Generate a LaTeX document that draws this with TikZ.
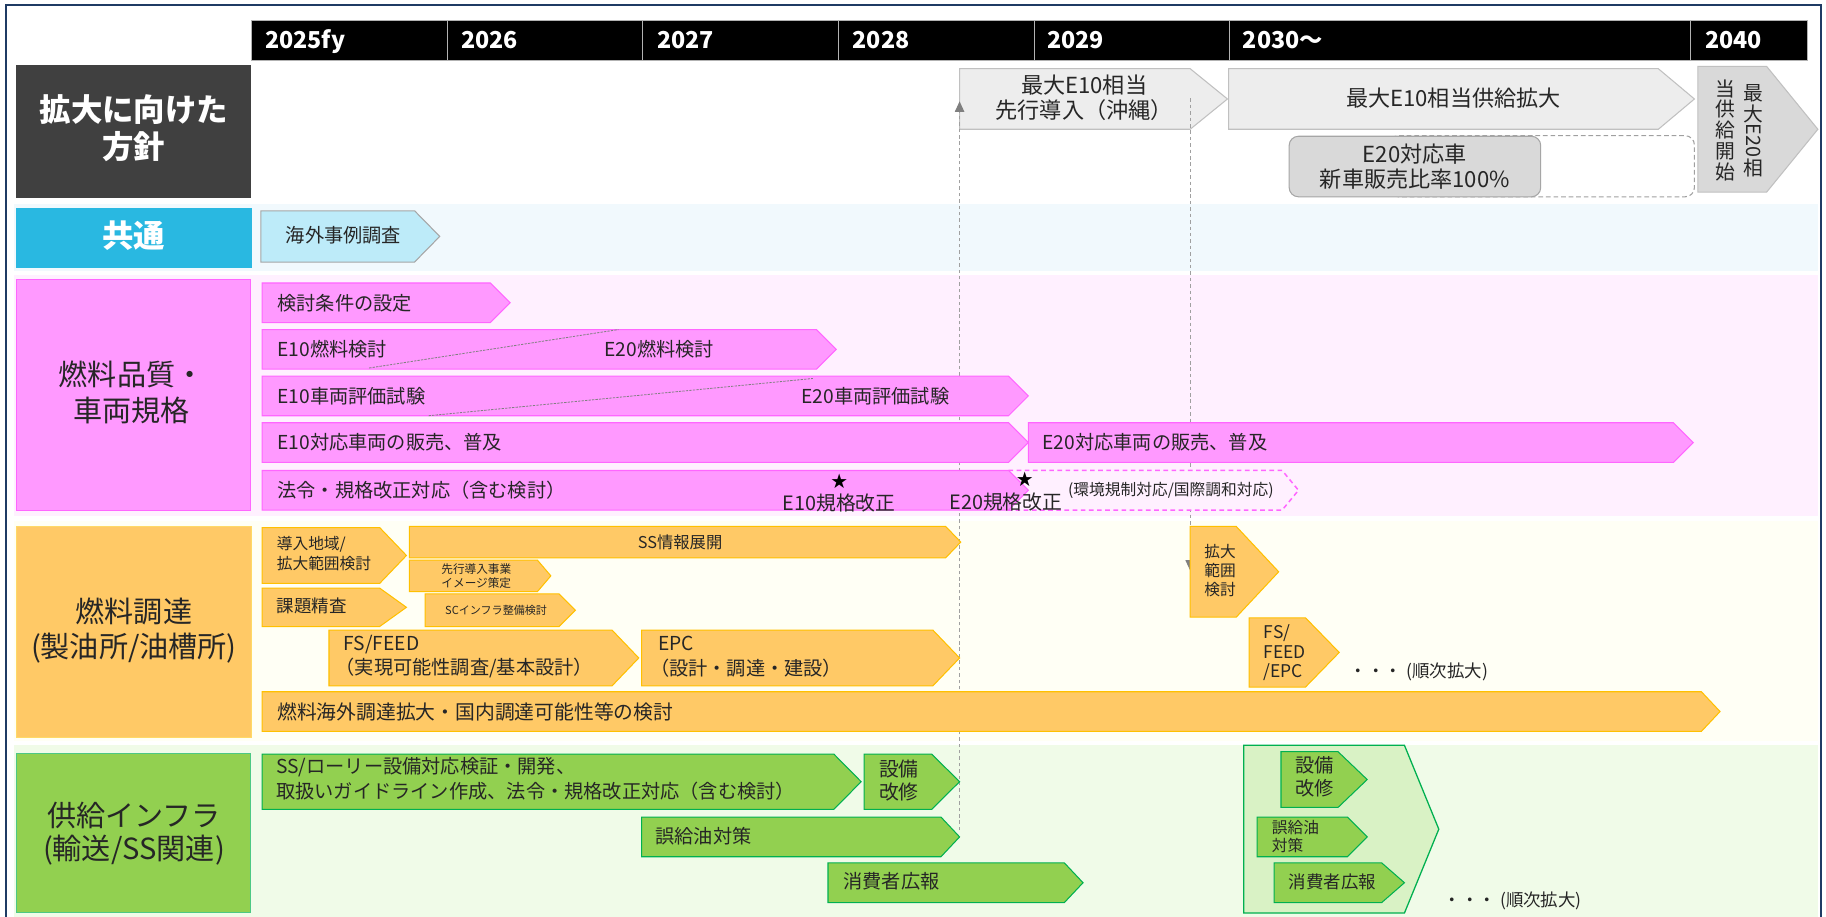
\documentclass[tikz,border=0pt]{standalone}
\usepackage{fontspec}
\setmainfont{Noto Sans CJK JP}
\usetikzlibrary{arrows.meta}
\definecolor{framec}{HTML}{1F3B64}
\definecolor{txt}{HTML}{262626}
\definecolor{darkl}{HTML}{404040}
\definecolor{cyanl}{HTML}{29B8E1}
\definecolor{pinkf}{HTML}{FF99FF}
\definecolor{pinkb}{HTML}{FF66FF}
\definecolor{orgf}{HTML}{FFC966}
\definecolor{orgb}{HTML}{FFC000}
\definecolor{grnf}{HTML}{92D050}
\definecolor{grnb}{HTML}{00B050}
\definecolor{bgblue}{HTML}{F1F9FD}
\definecolor{bgpink}{HTML}{FFF0FF}
\definecolor{bgyel}{HTML}{FFFFF5}
\definecolor{bggrn}{HTML}{F0FBE8}
\definecolor{gchf}{HTML}{EDEDED}
\definecolor{gchb}{HTML}{C0C0C0}
\definecolor{rboxf}{HTML}{D9D9D9}
\definecolor{rboxb}{HTML}{A6A6A6}
\definecolor{lbf}{HTML}{BDEBF9}
\definecolor{contf}{HTML}{D9F2C5}
\definecolor{dashc}{HTML}{A0A0A0}
\definecolor{arrc}{HTML}{7F7F7F}
\newcommand\F[2]{\fontsize{#1}{#2}\selectfont}
% chevron: style, name, x1, y1, tip x, y2, slant
\newcommand\chev[7]{%
  \path[#1] (#3,#4) -- ({#5-#7},#4) -- (#5,{(#4+#6)/2}) -- ({#5-#7},#6) -- (#3,#6) -- cycle;
  \coordinate (#2) at ({(#3+#5)/2},{(#4+#6)/2});
}
\tikzset{
  tx/.style={inner sep=0pt, text=txt},
  bt/.style={tx, anchor=west, align=left, font=\F{16.5}{21}},
  ct/.style={tx, align=center},
  yr/.style={inner sep=0pt, anchor=base west, text=white, font=\bfseries\F{20}{24}},
  hcell/.style={fill=black, draw=gray!60, line width=0.8},
  gch/.style={fill=gchf, draw=gchb, line width=0.9},
  vch/.style={fill=rboxf, draw=gchb, line width=0.9},
  lbch/.style={fill=lbf, draw=rboxb, line width=0.9},
  pk/.style={fill=pinkf, draw=pinkb, line width=0.9},
  pkd/.style={fill=bgpink, draw=pinkb, dashed, line width=1.3, dash pattern=on 4pt off 3pt},
  og/.style={fill=orgf, draw=orgb, line width=0.9},
  gr/.style={fill=grnf, draw=grnb, line width=0.9},
  gcont/.style={fill=contf, draw=grnb, line width=1.1},
  dline/.style={draw=dashc, line width=1.1, dash pattern=on 3pt off 2.5pt},
  ddiag/.style={draw=gray, line width=0.7, dash pattern=on 2pt off 1pt},
  lblw/.style={inner sep=0pt, text=white, align=center, font=\bfseries\F{27}{31.5}},
  lblb/.style={tx, align=center, font=\F{25}{30.5}},
}
\begin{document}
\begin{tikzpicture}[x=1pt,y=-1pt]
\useasboundingbox (0,0) rectangle (1568,787);
\fill[white] (0,0) rectangle (1568,787);
% bands
\fill[bgblue] (12,175) rectangle (1561,233);
\fill[bgpink] (12,236) rectangle (1561,443);
\fill[bgyel] (12,447) rectangle (1561,636);
\fill[bggrn] (12,640) rectangle (1561,787);
% frame
\draw[framec, line width=1.8] (5,790) -- (5,4) -- (1563.5,4) -- (1563.5,790);
% header
\foreach \a/\b in {216/384,384/552,552/720,720/888,888/1056,1056/1452,1452/1552}
  \path[hcell] (\a,18) rectangle (\b,52);
\node[yr] (h1) at (227.5,41.5) {2025fy};
\node[yr] (h2) at (396,41.5) {2026};
\node[yr] (h3) at (564,41.5) {2027};
\node[yr] (h4) at (732,41.5) {2028};
\node[yr] (h5) at (899,41.5) {2029};
\node[yr] (h6) at (1067,41.5) {2030〜};
\node[yr] (h7) at (1464,41.5) {2040};
% left labels
\fill[darkl] (14,56) rectangle (215.5,170);
\node[lblw] (L1) at (115,110) {拡大に向けた\\方針};
\fill[cyanl] (14,179) rectangle (216,230.5);
\node[lblw] (L2) at (115,202) {共通};
\path[fill=pinkf, draw=pinkb, line width=0.9] (14,240) rectangle (215.5,438.6);
\node[lblb] (L3) at (113,337) {燃料品質・\\車両規格};
\path[fill=orgf, draw=orgb!60, line width=0.9] (14,451.7) rectangle (216,633.5);
\node[lblb] (L4) at (115,541.5) {燃料調達\\(製油所/油槽所)};
\path[fill=grnf, draw=grnb!70, line width=0.9] (14,647) rectangle (215.5,783.8);
\node[lblb, font=\F{25}{28}] (L5) at (115,716) {供給インフラ\\(輸送/SS関連)};
% row 1
\chev{gch}{c1}{824}{59}{1054}{111}{32}
\chev{gch}{c2}{1055}{59}{1455}{111}{31}
\node[ct, font=\F{19}{21.5}] (tc1) at (931,84) {最大E10相当\\先行導入（沖縄）};
\node[ct, font=\F{19}{21.5}] (tc2) at (1248,84.5) {最大E10相当供給拡大};
\draw[dashc, line width=0.9, dash pattern=on 4pt off 2.5pt, rounded corners=8] (1193,116.5) rectangle (1455,169);
\node[ct, font=\F{19}{22}, fill=rboxf, draw=rboxb, line width=0.9, rounded corners=8, minimum width=216, minimum height=52] (e20) at (1215,143) {E20対応車\\新車販売比率100\%};
\chev{vch}{c3}{1458}{57}{1561}{165}{44}
\node[ct, font=\F{17}{18}] (v1) at (1506,112) {最\\大\\\rotatebox[origin=c]{-90}{E20}\\相};
\node[ct, font=\F{17}{18}] (v2) at (1482,112) {当\\供\\給\\開\\始};
% dashed guide arrows
\coordinate (a1s) at (824,713);
\coordinate (a1e) at (824,87);
\coordinate (a2s) at (1022,84.5);
\coordinate (a2e) at (1022,490);
\draw[dline, -{Triangle[length=9pt,width=8pt,fill=arrc,color=arrc]}] (a1s) -- (a1e);
\draw[dline, -{Triangle[length=9pt,width=8pt,fill=arrc,color=arrc]}] (a2s) -- (a2e);
% common row
\chev{lbch}{b1}{224}{181}{377.6}{225}{21.6}
\node[ct, font=\F{16.5}{20}] (tb1) at (295,202) {海外事例調査};
% fuel quality rows
\chev{pk}{p1}{225}{243}{438}{277}{17}
\chev{pk}{p2}{225}{283}{718}{317}{17}
\draw[ddiag] (317,316) -- (531,283);
\chev{pk}{p3}{225}{323}{883}{357}{17}
\draw[ddiag] (368,357) -- (698,325);
\chev{pk}{p4}{225}{363}{883}{397}{17}
\chev{pk}{p5}{883}{363}{1454}{397}{17}
\chev{pkd}{p7}{866}{404}{1115}{438}{14}
\chev{pk}{p6}{225}{404}{883}{438}{17}
\node[bt] (tp1) at (238,260) {検討条件の設定};
\node[bt] (tp2a) at (238,300) {E10燃料検討};
\node[bt] (tp2b) at (519,300) {E20燃料検討};
\node[bt] (tp3a) at (238,340) {E10車両評価試験};
\node[bt] (tp3b) at (688,340) {E20車両評価試験};
\node[bt] (tp4a) at (238,380) {E10対応車両の販売、普及};
\node[bt] (tp5) at (895,380) {E20対応車両の販売、普及};
\node[bt] (tp6) at (238,421) {法令・規格改正対応（含む検討）};
\node[ct, text=black, font=\F{14}{16}] (s1) at (720.6,413) {★};
\node[ct, font=\F{17}{20}] (k1) at (720.6,432) {E10規格改正};
\node[ct, text=black, font=\F{14}{16}] (s2) at (880,412) {★};
\node[ct, font=\F{17}{20}] (k2) at (863.7,431.5) {E20規格改正};
\node[bt, font=\F{13.5}{16}] (tp7) at (917,421) {(環境規制対応/国際調和対応)};
% fuel procurement rows
\chev{og}{o1}{225}{453}{349}{501}{23}
\chev{og}{o2}{351.5}{452}{825}{479}{13}
\chev{og}{o3}{351.5}{481}{473}{508}{11.5}
\chev{og}{o4}{225}{505}{349}{538}{23}
\chev{og}{o5}{365}{510}{494}{538}{14}
\chev{og}{o6}{282.5}{541}{548.5}{589}{23}
\chev{og}{o7}{551}{541}{824}{589}{23}
\chev{og}{o8}{225}{594}{1477}{628}{16}
\chev{og}{o9}{1022}{452}{1098}{530}{36.5}
\chev{og}{o10}{1072.6}{530.5}{1150}{590}{29}
\node[bt, font=\F{13.5}{17}] (to1) at (237.5,475.5) {導入地域/\\拡大範囲検討};
\node[ct, font=\F{14}{17}] (to2) at (584,465.5) {SS情報展開};
\node[ct, font=\F{10}{12}] (to3) at (409,494.6) {先行導入事業\\イメージ策定};
\node[bt, font=\F{15}{18}] (to4) at (237.5,520) {課題精査};
\node[ct, font=\F{9.5}{11}] (to5) at (426,524) {SCインフラ整備検討};
\node[bt, font=\F{16.5}{21}] (to6) at (295,564) {FS/FEED\\\hspace*{-7pt}（実現可能性調査/基本設計）};
\node[bt, font=\F{16.5}{21}] (to7) at (565,564) {EPC\\\hspace*{-7pt}（設計・調達・建設）};
\node[bt, font=\F{17}{20}] (to8) at (238,611) {燃料海外調達拡大・国内調達可能性等の検討};
\node[bt, font=\F{13.5}{16.2}] (to9) at (1034,490) {拡大\\範囲\\検討};
\node[bt, font=\F{15}{16.5}] (to10) at (1085,560.5) {FS/\\FEED\\/EPC};
\node[bt, font=\F{15}{17}] (to11) at (1159,577) {・・・ (順次拡大)};
% supply infra rows
\chev{gr}{g1}{225}{647.5}{739.5}{695}{23.5}
\chev{gr}{g2}{742}{647.5}{824}{695}{24}
\chev{gr}{g3}{551}{701.6}{824}{735.7}{16}
\chev{gr}{g4}{711}{741}{930}{775}{16}
\chev{gcont}{g5}{1068}{640}{1235.5}{784}{29.5}
\chev{gr}{g6}{1100}{645.5}{1174}{693.3}{25}
\chev{gr}{g7}{1079.5}{701.6}{1174}{735.7}{17}
\chev{gr}{g8}{1094}{741}{1206}{775}{19.5}
\node[bt, font=\F{16.5}{21.4}] (tg1) at (237,669) {SS/ローリー設備対応検証・開発、\\取扱いガイドライン作成、法令・規格改正対応（含む検討）};
\node[bt, font=\F{17}{19.5}] (tg2) at (754.6,670) {設備\\改修};
\node[bt] (tg3) at (562.6,718) {誤給油対策};
\node[bt] (tg4) at (724,757) {消費者広報};
\node[bt, font=\F{16.5}{20}] (tg6) at (1112,667) {設備\\改修};
\node[bt, font=\F{13.5}{15.6}] (tg7) at (1092,718) {誤給油\\対策};
\node[bt, font=\F{15}{18}] (tg8) at (1106.6,757) {消費者広報};
\node[bt, font=\F{15}{17}] (tg9) at (1239.6,774) {・・・ (順次拡大)};
\end{tikzpicture}
\end{document}
